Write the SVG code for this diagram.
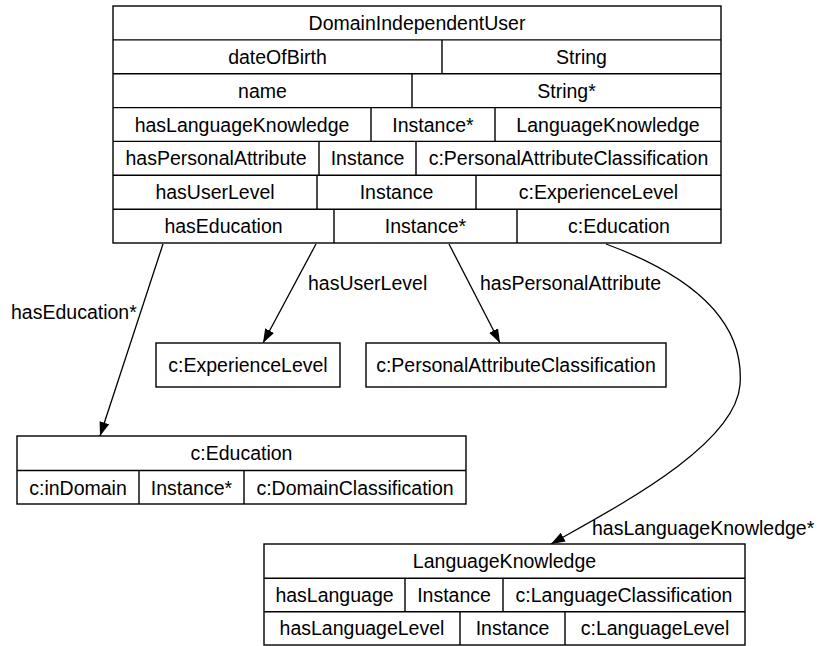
<svg xmlns="http://www.w3.org/2000/svg" width="825" height="646" viewBox="0 0 825 646">
  <defs>
    <style>
      text { font-family: "Liberation Sans", Arial, sans-serif; font-size: 19.5px; fill: #000; }
      .c { text-anchor: middle; }
      .box { fill: #fff; stroke: #000; stroke-width: 1.4; }
      .rule { stroke: #000; stroke-width: 1.4; fill: none; }
      .edge { stroke: #000; stroke-width: 1.3; fill: none; marker-end: url(#arrow); }
    </style>
    <marker id="arrow" markerUnits="userSpaceOnUse" markerWidth="15" markerHeight="11" refX="14" refY="5" orient="auto">
      <path d="M0,0 L14,5 L0,10 z" fill="#000"/>
    </marker>
  </defs>
  <rect width="825" height="646" fill="#fff"/>

  <!-- connectors -->
  <g id="edges">
    <path class="edge" d="M163,244 L100,436"/>
    <path class="edge" d="M316,244 L263,343"/>
    <path class="edge" d="M449,244 L500,343"/>
    <path class="edge" d="M606,244 C690,275 745,320 740,385 C735,445 620,505 551,544"/>
    <text x="11" y="319">hasEducation*</text>
    <text x="308" y="290">hasUserLevel</text>
    <text x="480" y="290">hasPersonalAttribute</text>
    <text x="592" y="535">hasLanguageKnowledge*</text>
  </g>

  <!-- DomainIndependentUser -->
  <g id="DomainIndependentUser">
    <rect class="box" x="113" y="6" width="608" height="237"/>
    <path class="rule" d="M113,39.9H721 M113,73.7H721 M113,107.6H721 M113,141.4H721 M113,175.3H721 M113,209.2H721"/>
    <path class="rule" d="M442,39.9V73.7 M412,73.7V107.6 M371,107.6V141.4 M495,107.6V141.4 M319,141.4V175.3 M416,141.4V175.3 M317,175.3V209.2 M476,175.3V209.2 M334,209.2V243 M517,209.2V243"/>
    <text class="c" x="417" y="29.9">DomainIndependentUser</text>
    <text class="c" x="277.5" y="63.8">dateOfBirth</text>
    <text class="c" x="581.5" y="63.8">String</text>
    <text class="c" x="262.5" y="97.6">name</text>
    <text class="c" x="566.5" y="97.6">String*</text>
    <text class="c" x="242" y="131.5">hasLanguageKnowledge</text>
    <text class="c" x="433" y="131.5">Instance*</text>
    <text class="c" x="608" y="131.5">LanguageKnowledge</text>
    <text class="c" x="216" y="165.4">hasPersonalAttribute</text>
    <text class="c" x="367.5" y="165.4">Instance</text>
    <text class="c" x="568.5" y="165.4">c:PersonalAttributeClassification</text>
    <text class="c" x="215" y="199.2">hasUserLevel</text>
    <text class="c" x="396.5" y="199.2">Instance</text>
    <text class="c" x="598.5" y="199.2">c:ExperienceLevel</text>
    <text class="c" x="223.5" y="233.1">hasEducation</text>
    <text class="c" x="425.5" y="233.1">Instance*</text>
    <text class="c" x="619" y="233.1">c:Education</text>
  </g>

  <!-- c:ExperienceLevel -->
  <g id="ExperienceLevel">
    <rect class="box" x="156" y="343" width="184" height="44"/>
    <text class="c" x="248" y="372">c:ExperienceLevel</text>
  </g>

  <!-- c:PersonalAttributeClassification -->
  <g id="PersonalAttributeClassification">
    <rect class="box" x="366" y="343" width="300" height="44"/>
    <text class="c" x="516" y="372">c:PersonalAttributeClassification</text>
  </g>

  <!-- c:Education -->
  <g id="Education">
    <rect class="box" x="17" y="436" width="449" height="68"/>
    <path class="rule" d="M17,470.5H466 M139,470.5V504 M244,470.5V504"/>
    <text class="c" x="241.5" y="460">c:Education</text>
    <text class="c" x="78" y="494.5">c:inDomain</text>
    <text class="c" x="191.5" y="494.5">Instance*</text>
    <text class="c" x="355" y="494.5">c:DomainClassification</text>
  </g>

  <!-- LanguageKnowledge -->
  <g id="LanguageKnowledge">
    <rect class="box" x="264" y="544" width="481" height="101"/>
    <path class="rule" d="M264,578.3H745 M264,611.7H745 M405,578.3V611.7 M503,578.3V611.7 M460,611.7V645 M565,611.7V645"/>
    <text class="c" x="504.5" y="568">LanguageKnowledge</text>
    <text class="c" x="334.5" y="602">hasLanguage</text>
    <text class="c" x="454" y="602">Instance</text>
    <text class="c" x="624" y="602">c:LanguageClassification</text>
    <text class="c" x="362" y="635.3">hasLanguageLevel</text>
    <text class="c" x="512.5" y="635.3">Instance</text>
    <text class="c" x="655" y="635.3">c:LanguageLevel</text>
  </g>
</svg>
